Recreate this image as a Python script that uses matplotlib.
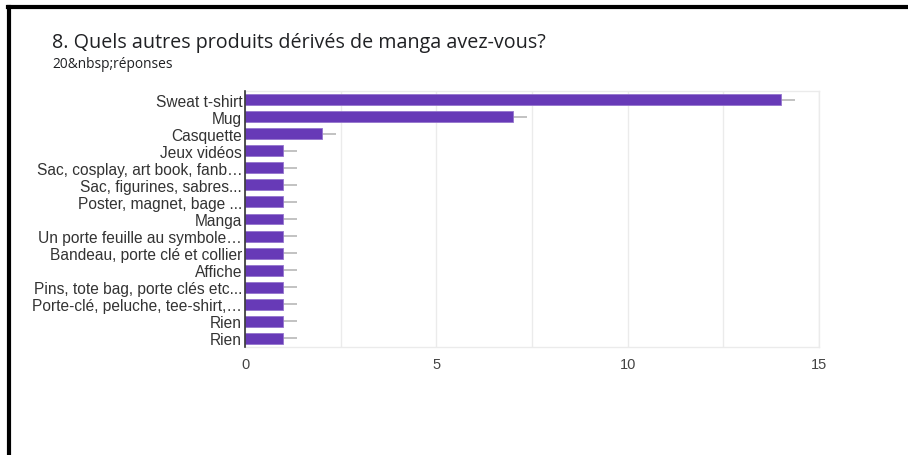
import matplotlib.pyplot as plt
from matplotlib.lines import Line2D
import numpy as np

# Survey answers and response counts
labels = [
    'Sweat t-shirt', 'Mug', 'Casquette', 'Jeux vidéos',
    'Sac, cosplay, art book, fanb…', 'Sac, figurines, sabres...',
    'Poster, magnet, bage ...', 'Manga', 'Un porte feuille au symbole…',
    'Bandeau, porte clé et collier', 'Affiche', 'Pins, tote bag, porte clés etc...',
    'Porte-clé, peluche, tee-shirt,…', 'Rien', 'Rien',
]
counts = [14, 7, 2, 1, 1, 1, 1, 1, 1, 1, 1, 1, 1, 1, 1]
whisker = 0.37

title = '8. Quels autres produits dérivés de manga avez-vous?'
subtitle = '20&nbsp;réponses'

W, H = 908, 456
fig = plt.figure(figsize=(W / 100, H / 100), dpi=100)
fig.patch.set_facecolor('white')

ax = fig.add_axes([245 / W, 1 - 348 / H, (819 - 245) / W, (348 - 92) / H])
y = np.arange(len(labels))

# grey whiskers behind the bars
ax.hlines(y, counts, np.array(counts) + whisker, color='#b8b8b8', lw=1.2, zorder=2)
ax.barh(y, counts, height=0.64, color='#673ab7', edgecolor='#9575cd',
        linewidth=0.6, zorder=3)

ax.set_ylim(len(labels) - 0.5, -0.5)
ax.set_xlim(0, 15)
ax.set_xticks([0, 5, 10, 15])
ax.set_xticks([2.5, 7.5, 12.5], minor=True)
ax.set_yticks(y)
ax.set_yticklabels(labels, fontsize=11.2, color='#333333', family='Liberation Sans')
ax.tick_params(axis='y', length=0, pad=2)
ax.tick_params(axis='x', which='both', length=0, pad=7, labelsize=10.5, labelcolor='#444444')
for t in ax.get_xticklabels():
    t.set_family('Liberation Sans')
ax.grid(True, axis='x', which='both', color='#ebebeb', lw=1, zorder=0)

for side in ['top', 'right', 'bottom']:
    ax.spines[side].set_color('#ebebeb')
    ax.spines[side].set_linewidth(1)
ax.spines['left'].set_color('#333333')
ax.spines['left'].set_linewidth(1.2)
ax.spines['left'].set_zorder(4)

fig.text(52 / W, 1 - 43 / H, title, fontsize=14.2, color='#202124', va='center',
         family='Open Sans')
fig.text(52 / W, 1 - 64 / H, subtitle, fontsize=9.9, color='#202124', va='center',
         family='Open Sans')

# outer frame, top and left edges only
fig.add_artist(Line2D([8 / W, 1], [1 - 8 / H, 1 - 8 / H], color='black', lw=3,
                      transform=fig.transFigure))
fig.add_artist(Line2D([9 / W, 9 / W], [0, 1 - 8 / H], color='black', lw=3,
                      transform=fig.transFigure))

fig.savefig('out.png', dpi=100)
